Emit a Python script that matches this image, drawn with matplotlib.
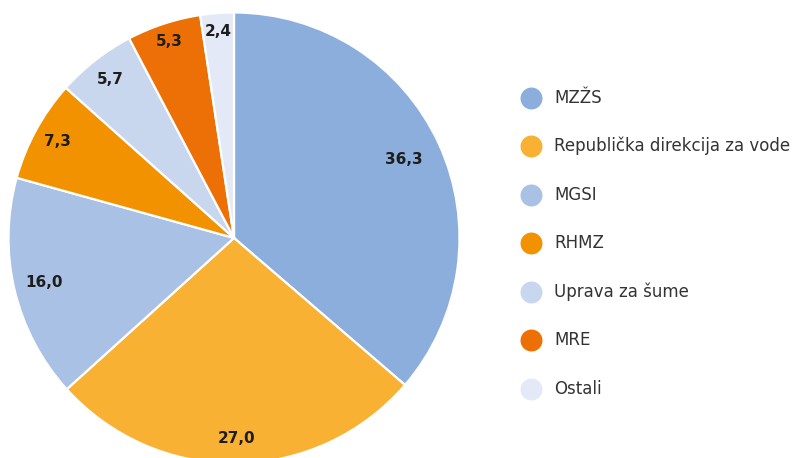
import numpy as np
import matplotlib
matplotlib.use("Agg")
import matplotlib.pyplot as plt

#   Datos
labels = ["MZŽS", "Republička direkcija za vode", "MGSI", "RHMZ",
          "Uprava za šume", "MRE", "Ostali"]
values = [36.3, 27.0, 16.0, 7.3, 5.7, 5.3, 2.4]
colors = ["#8caedc", "#f8b133", "#a8c1e5", "#f39200",
          "#c8d6ee", "#ec7006", "#e3e9f7"]

#   Distancia de cada etiqueta al centro (fraccion del radio)
lab_dist = [0.83, 0.887, 0.866, 0.893, 0.89, 0.916, 0.92]

plt.rcParams['font.family'] = ['DejaVu Sans']

W, H = 798, 458
cx, cy, R = 234, 238, 225.5

fig = plt.figure(figsize=(W/100, H/100), dpi=100)
ax = fig.add_axes([0, 0, 1, 1])

wedges, _ = ax.pie(values, colors=colors, startangle=90, counterclock=False,
                   radius=1, wedgeprops=dict(edgecolor="white", linewidth=1.6))

for w, v, d in zip(wedges, values, lab_dist):
    ang = np.deg2rad((w.theta1 + w.theta2)/2)
    ax.text(d*np.cos(ang), d*np.sin(ang), f"{v:.1f}".replace(".", ","),
            ha="center", va="center", fontsize=11, fontweight="bold", color="#1d1d1b")

#   Leyenda manual
for i, (lab, col) in enumerate(zip(labels, colors)):
    py = 97.5 + i*48.5
    y = (cy - py)/R
    ax.scatter([(531 - cx)/R], [y], s=250, color=col, linewidths=0, zorder=3)
    ax.text((554 - cx)/R, y, lab, va="center", ha="left", fontsize=12, color="#333333")

ax.set_aspect("auto")
ax.set_xlim(-cx/R, (W - cx)/R)
ax.set_ylim(-(H - cy)/R, cy/R)
ax.axis("off")

fig.savefig("out.png", dpi=100)
